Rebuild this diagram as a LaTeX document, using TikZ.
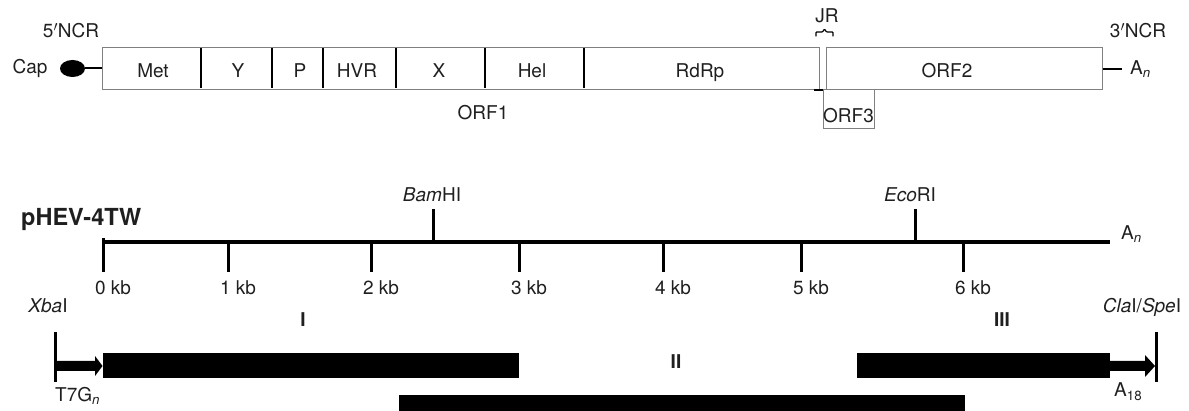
\documentclass[tikz,border=0pt]{standalone}
\usepackage{fontspec}
\setmainfont{TeX Gyre Heros}
\usetikzlibrary{shapes.geometric}
\begin{document}
\begin{tikzpicture}[x=1pt,y=-1pt,
  lbl/.style={font=\fontsize{19}{21}\selectfont, text=black!88, inner sep=0pt, anchor=base},
  numlbl/.style={lbl, font=\fontsize{19}{21}\selectfont\bfseries},
  boxline/.style={draw=black!50, line width=1pt},
  divider/.style={draw=black, line width=2.4pt},
  heavy/.style={draw=black, line width=3pt},
  bar/.style={fill=black, draw=none}]
\useasboundingbox (0,0) rectangle (1189,411);
% ---------- genome map ----------
\coordinate (orf1nw) at (102,48);
\coordinate (orf1se) at (819.5,90);
\draw[boxline] (orf1nw) rectangle (orf1se);
\foreach \x in {201,272,323,396,485,584} \draw[divider] (\x,48.5) -- (\x,88);
\coordinate (orf2nw) at (826,48);
\coordinate (orf2se) at (1102,90);
\draw[boxline] (orf2nw) rectangle (orf2se);
\coordinate (orf3nw) at (823,90);
\coordinate (orf3se) at (874,129);
\draw[boxline] (orf3nw) rectangle (orf3se);
\draw[line width=2pt] (814,90) -- (823,90);
\node[ellipse, fill=black, minimum width=25pt, minimum height=17pt, inner sep=0pt] (cap) at (72.5,68.5) {};
\draw[line width=2pt] (cap.east) -- (orf1nw |- cap.east);
\draw[line width=2pt] (1103,69) -- (1122,69);
\draw[line width=1.2pt, rounded corners=0.8pt] (816,36.5) -- (816,32) -- (822.5,32) -- (824.5,29) -- (826.5,32) -- (833,32) -- (833,36.5);
\node[lbl] (met) at (153,78) {Met};
\node[lbl] (y) at (238,78) {Y};
\node[lbl] (p) at (300,78) {P};
\node[lbl] (hvr) at (357,78) {HVR};
\node[lbl] (x) at (439,78) {X};
\node[lbl] (hel) at (532,78) {Hel};
\node[lbl] (rdrp) at (700,78) {RdRp};
\node[lbl] (orf2) at (947,78) {ORF2};
\node[lbl] (orf1) at (483,120) {ORF1};
\node[lbl] (orf3) at (848.5,123) {ORF3};
\node[lbl] (jr) at (827,23) {JR};
\node[lbl] (ncr5) at (71,38) {5$'$NCR};
\node[lbl] (ncr3) at (1138,38) {3$'$NCR};
\node[lbl] (caplbl) at (30,74) {Cap};
\node[lbl, anchor=base west] (an1) at (1130,75) {A\textsubscript{\textit{n}}};
% ---------- pHEV-4TW ----------
\node[lbl, anchor=base west, font=\fontsize{23.5}{25}\selectfont\bfseries] (title) at (21,226) {pHEV-4TW};
\coordinate (ax0) at (103,242);
\coordinate (ax1) at (1110,242);
\draw[line width=3.5pt] (ax0) -- (ax1);
\draw[heavy] (103,238) -- (103,272);
\foreach \x/\k in {228/1,371/2,519/3,663/4,801/5,963/6} \draw[heavy] (\x,242) -- (\x,272);
\foreach \x/\k in {103/0,228/1,371/2,519/3,663/4,801/5,963/6}
  \node[lbl] (kb\k) at (\x+10,295) {\k\ kb};
\draw[heavy] (433,209) -- (433,242);
\draw[heavy] (915,209) -- (915,242);
\node[lbl] (bam) at (432,202) {\textit{Bam}HI};
\node[lbl] (eco) at (910,202) {\textit{Eco}RI};
\node[lbl, anchor=base west] (an2) at (1121,240) {A\textsubscript{\textit{n}}};
% ---------- fragments ----------
\node[lbl] (xba) at (48,313) {\textit{Xba}I};
\node[lbl] (cla) at (1142,313) {\textit{Cla}I/\textit{Spe}I};
\node[numlbl] (f1) at (303,327) {I};
\node[numlbl] (f2) at (676,369) {II};
\node[numlbl] (f3) at (1002,327) {III};
\draw[heavy] (55,332) -- (55,382);
\draw[heavy] (1156,332) -- (1156,382);
\fill[black] (57,361) -- (95,361) -- (95,356) -- (102.5,366) -- (95,376) -- (95,371) -- (57,371) -- cycle;
\fill[black] (1110,361) -- (1145,361) -- (1145,355) -- (1155,366) -- (1145,377) -- (1145,371) -- (1110,371) -- cycle;
\fill[bar] (103,353) rectangle (519,378);
\fill[bar] (857,353) rectangle (1110,378);
\fill[bar] (399,395) rectangle (965,415);
\node[lbl, anchor=base west] (t7) at (55,402) {T7G\textsubscript{\textit{n}}};
\node[lbl, anchor=base west] (a18) at (1114,397) {A\textsubscript{18}};
\end{tikzpicture}
\end{document}
